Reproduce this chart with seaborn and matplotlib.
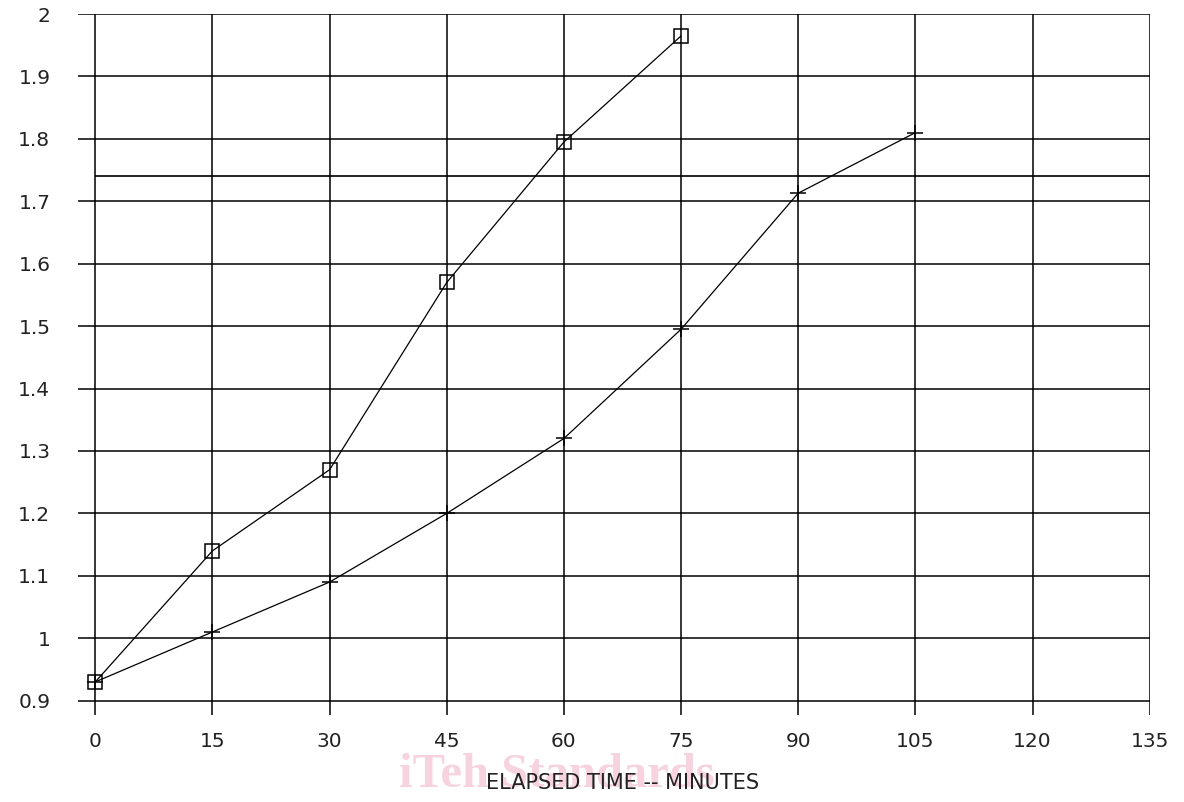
import numpy as np
import pandas as pd
import matplotlib
matplotlib.use("Agg")
import matplotlib.pyplot as plt
import seaborn as sns

# values
minutes_sq = [0, 15, 30, 45, 60, 75]
values_sq = [0.93, 1.14, 1.27, 1.57, 1.795, 1.965]

minutes_plus = [0, 15, 30, 45, 60, 75, 90, 105]
values_plus = [0.93, 1.01, 1.09, 1.20, 1.32, 1.495, 1.713, 1.81]

ref_level = 1.74
x_ticks = [0, 15, 30, 45, 60, 75, 90, 105, 120, 135]
y_ticks = [0.9, 1, 1.1, 1.2, 1.3, 1.4, 1.5, 1.6, 1.7, 1.8, 1.9, 2]
y_labels = ["0.9", "1", "1.1", "1.2", "1.3", "1.4", "1.5", "1.6", "1.7", "1.8", "1.9", "2"]

df_sq = pd.DataFrame({"minutes": minutes_sq, "value": values_sq})
df_plus = pd.DataFrame({"minutes": minutes_plus, "value": values_plus})

sns.set_style("white")
plt.rcParams["font.family"] = ["DejaVu Sans"]

fig = plt.figure(figsize=(11.84, 8.02), dpi=100)
ax = fig.add_axes([0.066, 0.1085, 0.905, 0.874])

sns.lineplot(data=df_sq, x="minutes", y="value", ax=ax, color="black", lw=0.9,
             marker="s", markersize=10, markerfacecolor="none",
             markeredgecolor="black", markeredgewidth=1.1, sort=False)
sns.lineplot(data=df_plus, x="minutes", y="value", ax=ax, color="black", lw=0.9,
             marker="+", markersize=11, markeredgecolor="black",
             markeredgewidth=1.1, sort=False)

ax.hlines(ref_level, 0, 135, color="black", lw=1.2, zorder=1)

ax.set_xlim(-2.2, 135)
ax.set_ylim(0.877, 2.0)
ax.set_xticks(x_ticks)
ax.set_yticks(y_ticks)
ax.set_yticklabels(y_labels)
ax.grid(True, color="black", lw=1.1)
ax.set_axisbelow(True)
for s in ax.spines.values():
    s.set_visible(False)
ax.tick_params(axis="both", length=0, labelsize=14.5, labelcolor="#222222")
ax.tick_params(axis="y", pad=20)
ax.tick_params(axis="x", pad=12)

ax.set_xlabel("ELAPSED TIME -- MINUTES", fontsize=15, color="#222222")
ax.set_ylabel("")
ax.xaxis.set_label_coords(0.508, -0.083)

# faint watermark behind the axis title
fig.text(0.47, 0.006, "iTeh Standards", fontsize=35, fontweight="bold",
         family=["Liberation Serif", "DejaVu Serif"], color="#f6d3df",
         ha="center", va="bottom", zorder=-1)

fig.savefig("out.png", dpi=100)
